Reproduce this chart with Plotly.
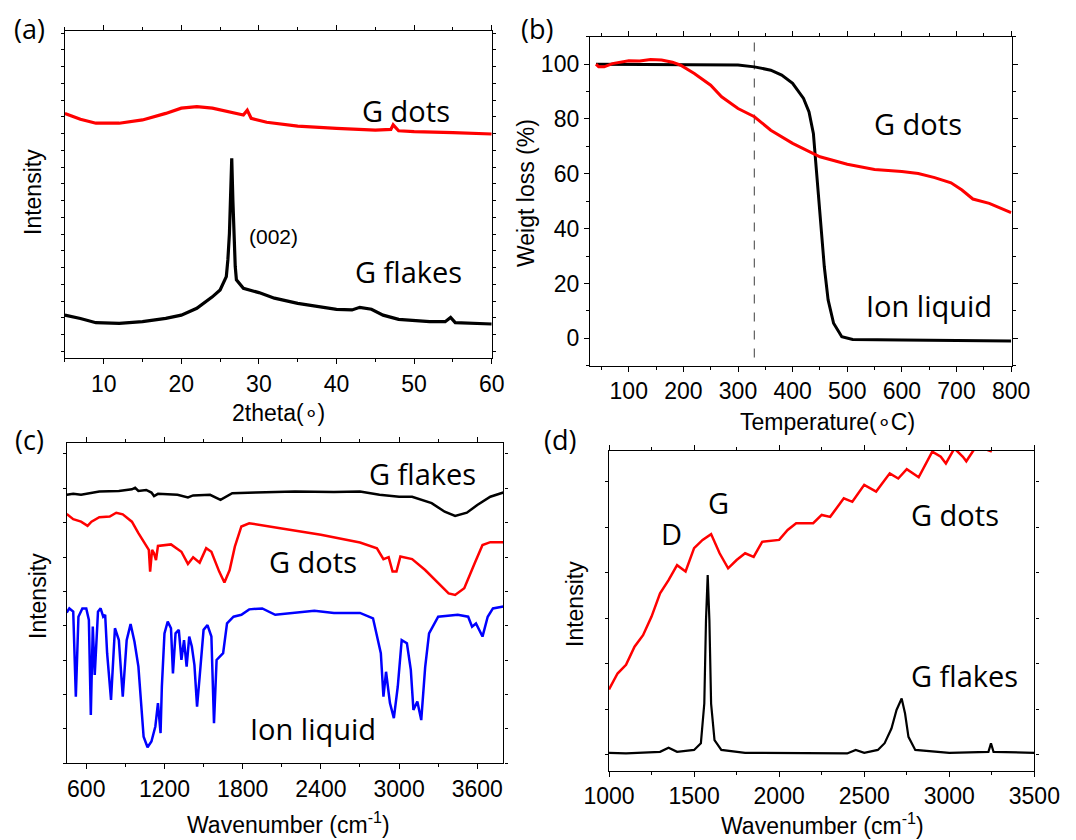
import plotly.graph_objects as go

# ---------------- (a) XRD ----------------
xrd_dots_x = [5, 7, 9, 12, 15, 18, 20, 22, 24, 26, 27, 28, 28.5, 29, 31, 35, 40, 45, 47, 47.3, 48, 50, 55, 60]
xrd_dots_y = [74.8, 73.0, 71.8, 71.8, 72.8, 74.8, 76.4, 76.9, 76.4, 75.3, 74.6, 74.3, 75.8, 73.3, 72.1, 70.9,
              70.2, 69.7, 69.9, 71.3, 69.5, 69.2, 68.9, 68.5]
xrd_flakes_x = [5, 7, 9, 12, 15, 18, 20, 22, 24, 25, 25.8, 26.0, 26.2, 26.35, 26.5, 26.65, 26.8, 26.95, 27.1, 28,
                30, 32, 35, 38, 40, 42, 43, 44.5, 46, 48, 52, 54, 54.7, 55.3, 60]
xrd_flakes_y = [13.1, 12.1, 10.8, 10.6, 11.1, 12.1, 13.1, 15.2, 18.7, 20.8, 24.9, 30, 38, 48, 61.1, 48, 36, 28,
                23.9, 21.3, 20.0, 18.3, 16.7, 15.7, 14.9, 14.7, 15.5, 14.9, 13.1, 11.8, 11.1, 11.1, 12.4, 10.8, 10.4]

# ---------------- (b) TGA ----------------
tga_il_x = [40, 300, 330, 360, 380, 400, 420, 430, 438, 443, 448, 453, 458, 465, 475, 490, 510, 600, 700, 800]
tga_il_y = [100, 99.7, 99.0, 97.8, 96, 93, 87.5, 82.6, 74.7, 62.6, 50.4, 38.3, 26.1, 14, 5.5, 0.6, -0.4, -0.6,
            -0.85, -1]
tga_dots_x = [40, 45, 55, 70, 100, 120, 140, 160, 180, 195, 220, 250, 270, 300, 330, 360, 400, 430, 450, 500,
              550, 600, 630, 660, 690, 710, 730, 760, 780, 800]
tga_dots_y = [100, 99, 99, 100.2, 101.2, 101.1, 101.7, 101.5, 100.7, 99.6, 96.6, 92.3, 88.1, 83.8, 80.8, 75.9,
              71.1, 68, 66.2, 63.5, 61.6, 60.8, 60.1, 58.6, 56.7, 54.1, 50.8, 49.2, 47.4, 45.8]
tga_marker_T = 330

# ---------------- (c) FTIR ----------------
ftir_flakes_x = [450, 500, 560, 600, 700, 850, 950, 975, 1000, 1060, 1100, 1120, 1150, 1300, 1380, 1420, 1550,
                 1630, 1720, 1900, 2200, 2500, 2700, 2850, 3000, 3100, 3250, 3350, 3430, 3520, 3600, 3700, 3800]
ftir_flakes_y = [83.9, 84.2, 83.9, 84.2, 84.9, 85.1, 85.6, 86.1, 85.1, 85.4, 84.6, 83.5, 84.2, 83.9, 83.1, 83.7,
                 83.9, 82.3, 84.4, 84.6, 84.9, 84.8, 84.9, 83.9, 83.3, 83.3, 81.3, 78.6, 77.3, 78.3, 80.7, 83.3, 84.6]
ftir_dots_x = [450, 500, 560, 610, 640, 700, 780, 830, 880, 950, 1000, 1060, 1080, 1090, 1105, 1120, 1135, 1150,
               1250, 1330, 1380, 1420, 1470, 1520, 1560, 1620, 1660, 1700, 1740, 1790, 1850, 2100, 2400, 2700,
               2830, 2880, 2920, 2950, 2980, 3010, 3100, 3200, 3300, 3380, 3430, 3500, 3580, 3640, 3700, 3800]
ftir_dots_y = [77.9, 76.3, 75.5, 74.2, 75.5, 76.9, 77.1, 78.3, 77.8, 75.5, 71.9, 67.7, 66.7, 59.9, 66.7, 65.6,
               63.5, 67.9, 68.4, 66.1, 62.3, 64.4, 62.7, 67.2, 66.1, 59.9, 56.5, 60.4, 67.7, 74, 75, 73.4, 71.4,
               69, 67.2, 63.8, 64.4, 59.9, 59.9, 64.6, 63.8, 60.4, 56.3, 53.1, 52.6, 54.7, 62.5, 68.2, 69.1, 69.1]
ftir_il_x = [450, 470, 500, 520, 540, 570, 600, 620, 635, 650, 665, 690, 710, 730, 745, 760, 790, 820, 850, 880,
             910, 940, 970, 1000, 1040, 1070, 1100, 1130, 1150, 1170, 1180, 1200, 1225, 1250, 1265, 1285, 1310,
             1330, 1350, 1370, 1390, 1410, 1430, 1450, 1470, 1500, 1530, 1560, 1580, 1600, 1650, 1680, 1730,
             1790, 1850, 1950, 2050, 2200, 2350, 2500, 2700, 2800, 2860, 2880, 2900, 2930, 2960, 2990, 3020,
             3060, 3090, 3110, 3140, 3170, 3200, 3230, 3300, 3450, 3530, 3560, 3590, 3640, 3680, 3720, 3800]
ftir_il_y = [47.1, 48.4, 47.4, 20.8, 45.8, 48.4, 48.4, 44.8, 15.1, 42.7, 27.6, 47.4, 48.4, 45.8, 46.4, 34.4,
             19.8, 42.2, 38.5, 20.8, 38.5, 43.5, 38, 30.2, 8.3, 5, 6.8, 11.5, 18.8, 9.4, 24, 40.6, 44.3, 42.2,
             28.1, 40.6, 41.7, 32.3, 38.5, 30.2, 39.6, 36.5, 30.7, 17.7, 27.1, 41.7, 43.2, 39.6, 12.5, 32.3,
             34.4, 43.7, 45.8, 46.4, 48.1, 48.4, 46.4, 47.1, 47.7, 47.0, 47.0, 45.3, 34.4, 20.8, 28.6, 18.8,
             14.1, 24, 38.5, 37.5, 29.2, 16.7, 19.3, 13.5, 30, 40.6, 45.8, 46.4, 45.8, 42.7, 43.7, 39.6, 45.8,
             48.4, 49]

# ---------------- (d) Raman ----------------
raman_dots_x = [1000, 1050, 1100, 1150, 1200, 1250, 1300, 1350, 1400, 1450, 1500, 1550, 1600, 1650, 1700, 1750,
                1800, 1850, 1900, 2000, 2050, 2100, 2200, 2250, 2300, 2380, 2430, 2500, 2570, 2650, 2700, 2750,
                2820, 2900, 2950, 2980, 3030, 3080, 3100, 3150, 3200, 3250]
raman_dots_y = [25.4, 30.4, 33.1, 38.8, 42.4, 48.2, 55.5, 59.6, 64.3, 62.3, 69.6, 72.2, 74, 68, 63.3, 65.9, 68,
                66.9, 71.6, 72.2, 75.3, 77.4, 77.4, 80, 79.4, 85.2, 84.1, 89.4, 87.3, 93, 91.4, 94.3, 91.8, 99.8,
                98.2, 96.1, 100.8, 98.2, 96.8, 100.8, 100.8, 99.8]
raman_flakes_x = [1000, 1100, 1300, 1350, 1400, 1500, 1540, 1560, 1570, 1580, 1590, 1600, 1620, 1660, 1800,
                  2200, 2400, 2450, 2500, 2580, 2620, 2660, 2690, 2720, 2740, 2760, 2800, 3000, 3230, 3245, 3260,
                  3500]
raman_flakes_y = [5.6, 5.4, 5.9, 7.2, 5.9, 6.5, 8.6, 21, 47.1, 61.2, 47.1, 21, 9.6, 6.5, 5.6, 5.4, 5.4, 6.5,
                  5.6, 6.5, 8.6, 13.2, 19, 22.6, 17.9, 10.6, 6.5, 5.6, 5.9, 8.6, 5.9, 5.6]

RED = "#ff0000"
BLACK = "#000000"
BLUE = "#0000ff"
TICKFONT = dict(family="Liberation Sans, Arial, sans-serif", size=23, color="black")
ANNFONT = dict(family="Open Sans, sans-serif", size=29, color="black")

fig = go.Figure()


def add(x, y, color, width, xa, ya, dash="solid"):
    fig.add_trace(go.Scatter(x=x, y=y, mode="lines", line=dict(color=color, width=width, dash=dash),
                             xaxis=xa, yaxis=ya, showlegend=False, hoverinfo="skip"))


add(xrd_dots_x, xrd_dots_y, RED, 3.2, "x", "y")
add(xrd_flakes_x, xrd_flakes_y, BLACK, 3.2, "x", "y")
add([tga_marker_T, tga_marker_T], [-7, 109], "#666666", 1.3, "x2", "y2", "dash")
add(tga_il_x, tga_il_y, BLACK, 3, "x2", "y2")
add(tga_dots_x, tga_dots_y, RED, 3, "x2", "y2")
add(ftir_flakes_x, ftir_flakes_y, BLACK, 2.5, "x3", "y3")
add(ftir_dots_x, ftir_dots_y, RED, 2.5, "x3", "y3")
add(ftir_il_x, ftir_il_y, BLUE, 2.5, "x3", "y3")
add(raman_dots_x, raman_dots_y, RED, 2.5, "x4", "y4")
add(raman_flakes_x, raman_flakes_y, BLACK, 2.2, "x4", "y4")

frame = dict(showline=True, linecolor="black", linewidth=1.3, mirror="ticks", showgrid=False,
             zeroline=False, ticks="outside", ticklen=5, tickwidth=1.2, tickcolor="black", tickfont=TICKFONT,
             automargin=False)


def xax(domain, anchor, rng, dtick, mdtick):
    d = dict(frame)
    d.update(domain=domain, anchor=anchor, range=rng, dtick=dtick, tick0=0,
             minor=dict(ticks="outside", ticklen=3, dtick=mdtick, tick0=0, tickcolor="black", tickwidth=1.2))
    return d


def yax(domain, anchor, rng, dtick, tick0, labels, mdtick=None):
    d = dict(frame)
    d.update(domain=domain, anchor=anchor, range=rng, dtick=dtick, tick0=tick0, showticklabels=labels)
    if not labels:
        d.update(ticklen=3)
    if mdtick:
        d.update(minor=dict(ticks="outside", ticklen=3, dtick=mdtick, tick0=0, tickcolor="black", tickwidth=1.2))
    return d


fig.update_layout(
    width=1076, height=840, margin=dict(l=0, r=0, t=0, b=0, autoexpand=False),
    plot_bgcolor="white", paper_bgcolor="white",
    xaxis=xax([0.0603, 0.4570], "y", [5, 60], 10, 5),
    yaxis=yax([0.5738, 0.9631], "x", [0, 100], 5.12, 2.04, False),
    xaxis2=xax([0.5483, 0.9402], "y2", [29, 801], 100, 50),
    yaxis2=yax([0.5646, 0.9563], "x2", [-10, 110], 20, 0, True, 10),
    xaxis3=xax([0.0620, 0.4678], "y3", [450, 3800], 600, 300),
    yaxis3=yax([0.0913, 0.4723], "x3", [0, 100], 10.74, 0, False),
    xaxis4=xax([0.5660, 0.9613], "y4", [1000, 3500], 500, 250),
    yaxis4=yax([0.0825, 0.4631], "x4", [0, 100], 14.24, 4.94, False),
)

ann = []


def txt(x, y, s, xref, yref, font=ANNFONT, angle=0):
    ann.append(dict(x=x, y=y, text=s, xref=xref, yref=yref, showarrow=False, font=font,
                    xanchor="center", yanchor="middle", textangle=angle))


# in-plot labels
txt(49.0, 75.8, "G dots", "x", "y")
txt(31.9, 37.1, "(002)", "x", "y", dict(family="Liberation Sans, Arial, sans-serif", size=21, color="black"))
txt(49.3, 26.4, "G flakes", "x", "y")
txt(629, 78.4, "G dots", "x2", "y2")
txt(649, 12.1, "Ion liquid", "x2", "y2")
txt(3183, 90.6, "G flakes", "x3", "y3")
txt(2339, 63, "G dots", "x3", "y3")
txt(2339, 10.9, "Ion liquid", "x3", "y3")
txt(1368, 74.2, "D", "x4", "y4")
txt(1646, 83.8, "G", "x4", "y4")
txt(3034, 80, "G dots", "x4", "y4")
txt(3092, 29.9, "G flakes", "x4", "y4")

W, H = 1076.0, 840.0
TITLEFONT = dict(family="Liberation Sans, Arial, sans-serif", size=23, color="black")
PANELFONT = dict(family="Open Sans, sans-serif", size=27, color="black")


def p(x, y, s, font, angle=0):
    txt(x / W, 1 - y / H, s, "paper", "paper", font, angle)


# panel letters
p(29, 29, "(a)", PANELFONT)
p(537, 29, "(b)", PANELFONT)
p(29, 439, "(c)", PANELFONT)
p(560, 439, "(d)", PANELFONT)
# axis titles
p(278, 413, "2theta(∘)", TITLEFONT)
p(827, 422, "Temperature(∘C)", TITLEFONT)
p(288, 823, "Wavenumber (cm<sup>-1</sup>)", TITLEFONT)
p(822, 824, "Wavenumber (cm<sup>-1</sup>)", TITLEFONT)
p(33, 192, "Intensity", TITLEFONT, -90)
p(526, 193, "Weigt loss (%)", TITLEFONT, -90)
p(38, 596, "Intensity", TITLEFONT, -90)
p(575, 604, "Intensity", TITLEFONT, -90)

fig.update_layout(annotations=ann)
fig.write_html("out.html", config={"displayModeBar": False},
               post_script="document.body.style.margin='0';document.body.style.overflow='hidden';")
